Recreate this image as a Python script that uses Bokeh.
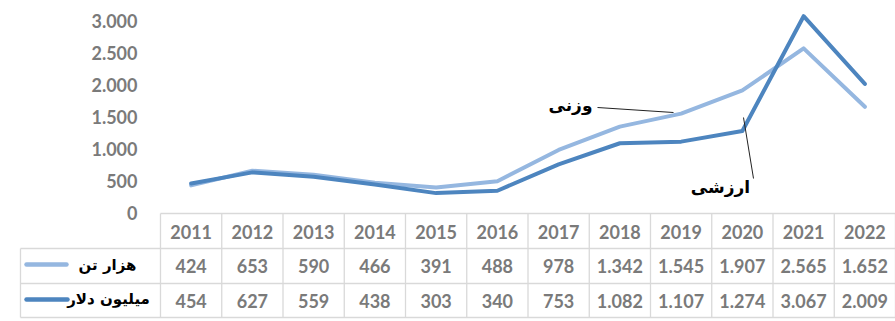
from bokeh.plotting import figure
from bokeh.models import Range1d, LinearAxis, FixedTicker, CustomJSTickFormatter
from bokeh.core.properties import value
from bokeh.embed import file_html
from bokeh.resources import INLINE

# ---- data ----
years = ["2011", "2012", "2013", "2014", "2015", "2016", "2017", "2018", "2019", "2020", "2021", "2022"]
weight_kt = [424, 653, 590, 466, 391, 488, 978, 1342, 1545, 1907, 2565, 1652]
value_musd = [454, 627, 559, 438, 303, 340, 753, 1082, 1107, 1274, 3067, 2009]
series_names = ["هزار تن", "میلیون دلار"]
annot_weight = "وزنی"
annot_value = "ارزشی"
y_ticks = [0, 500, 1000, 1500, 2000, 2500, 3000]

# ---- layout constants ----
W, H = 895, 321
COL_LEFT = 160.0
COL_W = (W - COL_LEFT) / len(years)
Y0_PX, Y3000_PX = 212.0, 20.0
UNIT = 3000.0 / (Y0_PX - Y3000_PX)  # data units per pixel


def py(px):
    return 3000.0 - (px - Y3000_PX) * UNIT


def px_x(px):
    return (px - COL_LEFT) / COL_W


LIGHT = "#95B7E0"
DARK = "#4D85BF"
GRID = "#D9D9D9"
TXT = "#7A7A7A"

p = figure(width=W, height=H, output_backend="svg", toolbar_location=None,
           x_axis_location=None, y_axis_location=None,
           x_range=Range1d(px_x(0), len(years)), y_range=Range1d(py(H), py(0)),
           min_border=0, outline_line_color=None)
p.grid.visible = False
p.background_fill_color = "white"

yaxis = LinearAxis(fixed_location=0, ticker=FixedTicker(ticks=y_ticks),
                   formatter=CustomJSTickFormatter(code="""
                       return Math.round(tick).toString().replace(/\\B(?=(\\d{3})+(?!\\d))/g, '.');
                   """))
yaxis.axis_line_color = None
yaxis.major_tick_line_color = None
yaxis.minor_tick_line_color = None
yaxis.major_tick_out = 0
yaxis.major_tick_in = 0
yaxis.major_label_standoff = 23
yaxis.major_label_text_font = "Lato"
yaxis.major_label_text_font_style = "bold"
yaxis.major_label_text_font_size = "18px"
yaxis.major_label_text_color = TXT
p.add_layout(yaxis, "left")

xc = [i + 0.5 for i in range(len(years))]

# ---- lines ----
p.line(xc, weight_kt, line_color=LIGHT, line_width=4, line_join="round", line_cap="round")
p.line(xc, value_musd, line_color=DARK, line_width=4, line_join="round", line_cap="round")

# ---- data table ----
n = len(years)
r_top, r1, r2, r3 = 213, 248, 283, 317
hx0 = [0, px_x(20), px_x(20), px_x(20)]
hy = [py(r_top), py(r1), py(r2), py(r3)]
p.segment(x0=hx0, y0=hy, x1=[n] * 4, y1=hy, line_color=GRID, line_width=1.3)
vx = list(range(n + 1))
p.segment(x0=vx, y0=[py(r_top)] * len(vx), x1=vx, y1=[py(r3)] * len(vx), line_color=GRID, line_width=1.3)
p.segment(x0=[px_x(20)], y0=[py(r1)], x1=[px_x(20)], y1=[py(r3)], line_color=GRID, line_width=1.3)


def fmt(v):
    return "{:,}".format(v).replace(",", ".")


row_y = [py(231), py(265.5), py(300)]
for ry, labels in zip(row_y, [years, [fmt(v) for v in weight_kt], [fmt(v) for v in value_musd]]):
    p.text(x=xc, y=[ry] * n, text=labels, text_align="center", text_baseline="middle",
           text_font=value("Lato"), text_font_style="bold", text_font_size="18px", text_color=TXT)

# legend keys
p.segment(x0=[px_x(26)], y0=[py(264)], x1=[px_x(66)], y1=[py(264)], line_color=LIGHT,
          line_width=4.5, line_cap="round")
p.segment(x0=[px_x(26)], y0=[py(299)], x1=[px_x(67)], y1=[py(299)], line_color=DARK,
          line_width=4.5, line_cap="round")
p.text(x=[px_x(107), px_x(108)], y=[py(264), py(298)], text=series_names, text_align="center",
       text_baseline="middle", text_font=value("DejaVu Sans"), text_font_style="bold",
       text_font_size="15px", text_color="black")

# ---- annotations ----
p.segment(x0=[px_x(597), px_x(743)], y0=[py(107), py(117)], x1=[px_x(673), px_x(753)],
          y1=[py(112), py(178)], line_color="#222222", line_width=1)
p.text(x=[px_x(570), px_x(720)], y=[py(104), py(186)], text=[annot_weight, annot_value],
       text_align="center", text_baseline="middle", text_font=value("DejaVu Sans"),
       text_font_style="bold", text_font_size="17px", text_color="black")

open("out.html", "w").write(file_html(p, INLINE))
